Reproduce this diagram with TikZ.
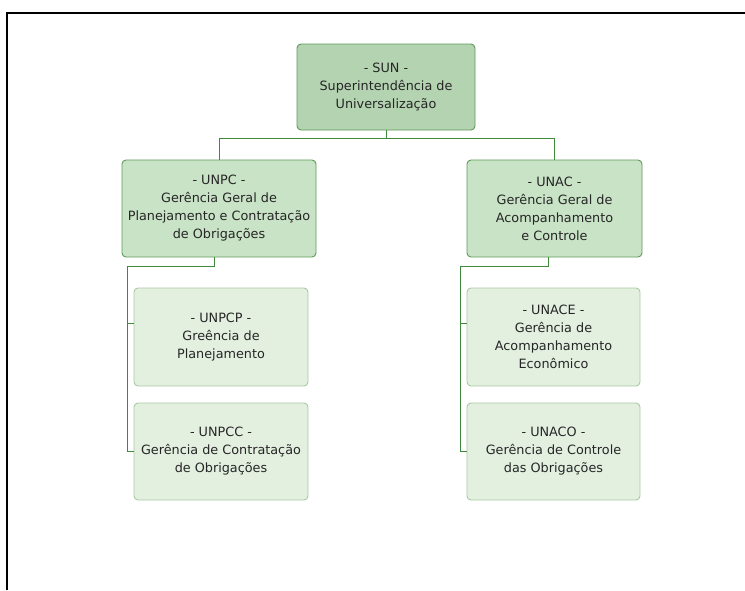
\documentclass[tikz,border=0pt]{standalone}
\usepackage{fontspec}
\setmainfont{DejaVu Sans}
\definecolor{topfill}{HTML}{B4D3B0}
\definecolor{midfill}{HTML}{C9E3C6}
\definecolor{lowfill}{HTML}{E3F0E0}
\definecolor{darkedge}{HTML}{5E9A5A}
\definecolor{lightedge}{HTML}{A9C9A4}
\definecolor{linkcol}{HTML}{3F8A3A}
\tikzset{
  orgbox/.style={draw=darkedge, line width=0.9pt, rounded corners=4pt, align=center,
    font=\fontsize{12.8}{18}\selectfont, text=black!85, inner sep=0pt},
  topbox/.style={orgbox, fill=topfill},
  midbox/.style={orgbox, fill=midfill},
  lowbox/.style={orgbox, fill=lowfill, draw=lightedge},
  link/.style={draw=linkcol, line width=0.9pt},
  frameline/.style={draw=black, line width=2.4pt}
}
\begin{document}
\begin{tikzpicture}[x=1pt,y=-1pt]
\useasboundingbox (0,0) rectangle (745,590);
\draw[frameline] (7,590) -- (7,13) -- (746,13);
% boxes
\node[topbox, minimum width=178pt, minimum height=86pt] (sun) at (386,87)
  {- SUN -\\Superintendência de\\Universalização};
\node[midbox, minimum width=194pt, minimum height=97pt] (unpc) at (219,208.5)
  {- UNPC -\\Gerência Geral de\\Planejamento e Contratação\\de Obrigações};
\node[midbox, minimum width=175pt, minimum height=97pt] (unac) at (554.5,208.5)
  {- UNAC -\\Gerência Geral de\\Acompanhamento\\e Controle};
\node[lowbox, minimum width=174pt, minimum height=98pt] (unpcp) at (221,337)
  {- UNPCP -\\Greência de\\Planejamento};
\node[lowbox, minimum width=174pt, minimum height=97pt] (unpcc) at (221,451.5)
  {- UNPCC -\\Gerência de Contratação\\de Obrigações};
\node[lowbox, minimum width=173pt, minimum height=98pt] (unace) at (553.5,337)
  {- UNACE -\\Gerência de\\Acompanhamento\\Econômico};
\node[lowbox, minimum width=173pt, minimum height=97pt] (unaco) at (553.5,451.5)
  {- UNACO -\\Gerência de Controle\\das Obrigações};
% junction coordinates
\coordinate (busy) at (0,138);
\coordinate (lbus) at (127,266);
\coordinate (rbus) at (460,266);
% connectors
\draw[link] (sun.south) -- (sun.south |- busy);
\draw[link] (unpc.north |- busy) -- (unac.north |- busy);
\draw[link] (unpc.north |- busy) -- (unpc.north);
\draw[link] (unac.north |- busy) -- (unac.north);
\draw[link] (214,0 |- unpc.south) -- (214,266) -- (lbus) -- (lbus |- unpcc.west) -- (unpcc.west);
\draw[link] (lbus |- unpcp.west) ++(0,-14) -- ++(7,0);
\draw[link] (548,0 |- unac.south) -- (548,266) -- (rbus) -- (rbus |- unaco.west) -- (unaco.west);
\draw[link] (rbus |- unace.west) ++(0,-14) -- ++(7,0);
\end{tikzpicture}
\end{document}
